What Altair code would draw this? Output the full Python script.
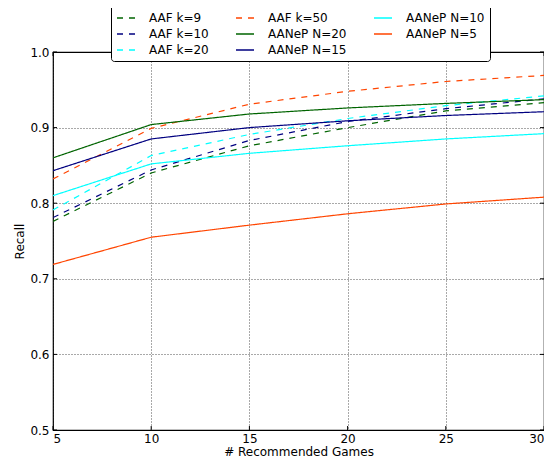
import altair as alt
import pandas as pd

x_vals = [5, 10, 15, 20, 25, 30]
aaf_k9 = [0.776, 0.840, 0.876, 0.900, 0.922, 0.933]
aaf_k10 = [0.781, 0.844, 0.883, 0.908, 0.925, 0.938]
aaf_k20 = [0.791, 0.863, 0.891, 0.912, 0.929, 0.942]
aaf_k50 = [0.832, 0.899, 0.931, 0.948, 0.961, 0.969]
aanep_n20 = [0.860, 0.904, 0.918, 0.926, 0.932, 0.937]
aanep_n15 = [0.843, 0.885, 0.900, 0.909, 0.916, 0.921]
aanep_n10 = [0.810, 0.852, 0.866, 0.876, 0.885, 0.892]
aanep_n5 = [0.719, 0.755, 0.771, 0.786, 0.799, 0.808]

series_names = ["AAF k=9", "AAF k=10", "AAF k=20", "AAF k=50",
                "AANeP N=20", "AANeP N=15", "AANeP N=10", "AANeP N=5"]
series_values = [aaf_k9, aaf_k10, aaf_k20, aaf_k50,
                 aanep_n20, aanep_n15, aanep_n10, aanep_n5]
series_colors = ["#006400", "#000080", "#00FFFF", "#FF4500",
                 "#006400", "#000080", "#00FFFF", "#FF4500"]
series_dashed = [True, True, True, True, False, False, False, False]

x_ticks = [5, 10, 15, 20, 25, 30]
y_ticks = [0.5, 0.6, 0.7, 0.8, 0.9, 1.0]

rows = []
for order, (name, vals) in enumerate(zip(series_names, series_values)):
    for xv, yv in zip(x_vals, vals):
        rows.append({"series": name, "games": xv, "recall": yv, "o": order})
df = pd.DataFrame(rows)

dash_range = [[6, 6] if d else [1, 0] for d in series_dashed]

W, H = 491, 378
xs = alt.Scale(domain=[5, 30], nice=False, zero=False)
ys = alt.Scale(domain=[0.5, 1.0], nice=False, zero=False)

x_axis = alt.Axis(values=x_ticks, title="# Recommended Games", format="d",
                  grid=True, gridDash=[1, 2], gridColor="black", gridOpacity=0.85,
                  gridWidth=0.8, ticks=False, domain=False, labelPadding=3,
                  titlePadding=2)
y_axis = alt.Axis(values=y_ticks, title="Recall", format=".1f",
                  grid=True, gridDash=[1, 2], gridColor="black", gridOpacity=0.85,
                  gridWidth=0.8, ticks=False, domain=False, labelPadding=4,
                  titlePadding=3)

lines = alt.Chart(df).mark_line(strokeWidth=1.2, clip=True).encode(
    x=alt.X("games:Q", scale=xs, axis=x_axis),
    y=alt.Y("recall:Q", scale=ys, axis=y_axis),
    color=alt.Color("series:N", title=None,
                    scale=alt.Scale(domain=series_names, range=series_colors),
                    legend=alt.Legend(orient="none", legendX=58, legendY=-49,
                                      columns=3, gridAlign="each",
                                      symbolType="stroke", symbolSize=324,
                                      symbolStrokeWidth=1.5, labelFontSize=12,
                                      labelOffset=13, columnPadding=24, rowPadding=0,
                                      padding=5, strokeColor="black", fillColor="white",
                                      cornerRadius=3, labelColor="black", labelLimit=200)),
    strokeDash=alt.StrokeDash("series:N", title=None,
                              scale=alt.Scale(domain=series_names, range=dash_range)),
    order=alt.Order("o:Q"),
)

yt = pd.DataFrame({"games": [5] * len(y_ticks), "recall": y_ticks})
xt = pd.DataFrame({"games": x_ticks, "recall": [0.5] * len(x_ticks)})
tick_left = alt.Chart(yt).mark_rule(color="black", strokeWidth=1).encode(
    y=alt.Y("recall:Q", scale=ys, axis=y_axis), x=alt.value(0), x2=alt.value(4))
tick_right = alt.Chart(yt).mark_rule(color="black", strokeWidth=1).encode(
    y=alt.Y("recall:Q", scale=ys, axis=y_axis), x=alt.value(W - 4), x2=alt.value(W))
tick_bottom = alt.Chart(xt).mark_rule(color="black", strokeWidth=1).encode(
    x=alt.X("games:Q", scale=xs, axis=x_axis), y=alt.value(H - 4), y2=alt.value(H))
tick_top = alt.Chart(xt).mark_rule(color="black", strokeWidth=1).encode(
    x=alt.X("games:Q", scale=xs, axis=x_axis), y=alt.value(0), y2=alt.value(4))

chart = alt.layer(lines, tick_left, tick_right, tick_bottom, tick_top).properties(
    width=W, height=H,
    autosize=alt.AutoSizeParams(type="none"),
    padding={"left": 45, "top": 44, "right": 0, "bottom": 30},
).configure_view(
    stroke="black", strokeWidth=1.2
).configure_axis(
    labelFont="DejaVu Sans", titleFont="DejaVu Sans", labelFontSize=12,
    titleFontSize=12, titleFontWeight="normal", labelColor="black", titleColor="black"
).configure_legend(
    labelFont="DejaVu Sans"
)

chart.save("out.html", embed_options={"renderer": "svg", "actions": False})
